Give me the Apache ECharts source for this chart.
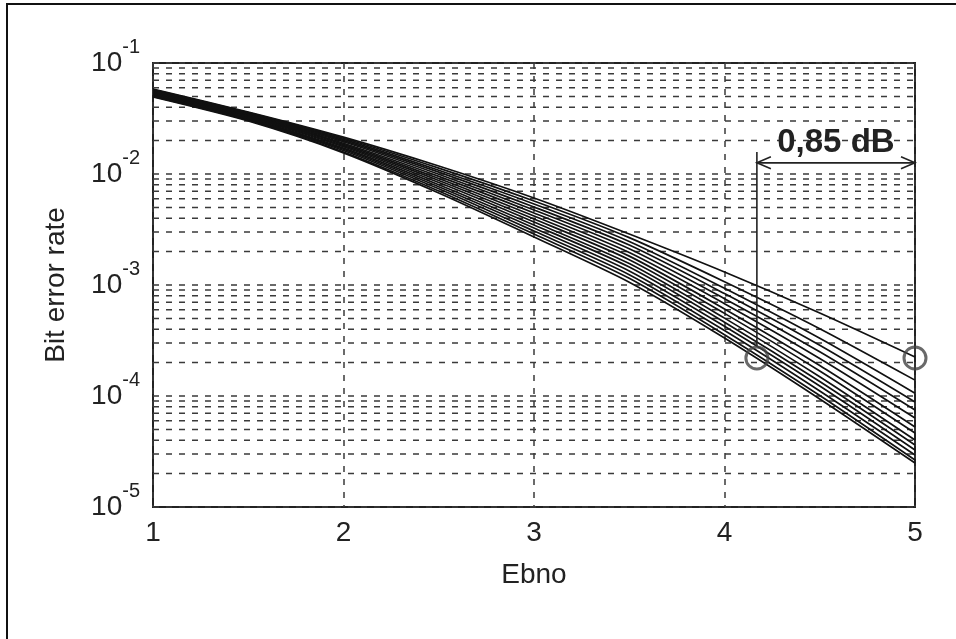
<!DOCTYPE html>
<html>
<head>
<meta charset="utf-8">
<script src="https://cdn.jsdelivr.net/npm/echarts@6/dist/echarts.min.js"></script>
<style>
  html, body { margin: 0; padding: 0; background: #fff; }
  #chart { width: 956px; height: 639px; }
</style>
</head>
<body>
<div id="chart"></div>
<script>
// Eb/No points (dB)
const ebno = [1, 1.5, 2, 2.5, 3, 3.5, 4, 4.5, 5];

// bit error rate, one row per curve (worst on top, best at bottom)
const berCurves = [
  [0.0583, 0.0362, 0.0215, 0.0118, 6.08e-3, 2.88e-3, 1.31e-3, 5.60e-4, 2.25e-4],
  [0.0576, 0.0357, 0.0210, 0.0113, 5.71e-3, 2.67e-3, 1.07e-3, 4.04e-4, 1.39e-4],
  [0.0569, 0.0352, 0.0205, 0.0108, 5.37e-3, 2.47e-3, 9.34e-4, 3.31e-4, 1.06e-4],
  [0.0562, 0.0346, 0.0200, 0.0104, 5.04e-3, 2.29e-3, 8.37e-4, 2.86e-4, 8.83e-5],
  [0.0554, 0.0341, 0.0195, 9.94e-3, 4.74e-3, 2.12e-3, 7.53e-4, 2.50e-4, 7.48e-5],
  [0.0547, 0.0337, 0.0189, 9.51e-3, 4.45e-3, 1.96e-3, 6.79e-4, 2.18e-4, 6.34e-5],
  [0.0540, 0.0332, 0.0185, 9.11e-3, 4.18e-3, 1.82e-3, 6.08e-4, 1.88e-4, 5.26e-5],
  [0.0533, 0.0328, 0.0180, 8.74e-3, 3.93e-3, 1.69e-3, 5.55e-4, 1.68e-4, 4.64e-5],
  [0.0527, 0.0323, 0.0176, 8.37e-3, 3.69e-3, 1.56e-3, 5.03e-4, 1.49e-4, 4.01e-5],
  [0.0520, 0.0318, 0.0171, 8.01e-3, 3.47e-3, 1.45e-3, 4.62e-4, 1.35e-4, 3.62e-5],
  [0.0513, 0.0314, 0.0167, 7.67e-3, 3.26e-3, 1.34e-3, 4.25e-4, 1.23e-4, 3.26e-5],
  [0.0506, 0.0309, 0.0163, 7.36e-3, 3.06e-3, 1.24e-3, 3.89e-4, 1.11e-4, 2.94e-5],
  [0.0500, 0.0305, 0.0158, 7.04e-3, 2.88e-3, 1.15e-3, 3.57e-4, 1.01e-4, 2.65e-5],
  [0.0494, 0.0300, 0.0155, 6.74e-3, 2.71e-3, 1.06e-3, 3.33e-4, 9.40e-5, 2.49e-5]
];

// axis ticks
const xTicks = [1, 2, 3, 4, 5];
const yDecades = [1e-5, 1e-4, 1e-3, 1e-2];
const yMinorSteps = [2, 3, 4, 5, 6, 7, 8, 9];

// 0,85 dB annotation
const gapEbno = [4.17, 5];
const gapBer = 2.2e-4;
const arrowBer = 1.26e-2;
const leaderTopBer = 1.58e-2;
const labelBer = 1.90e-2;
const gapLabel = '0,85 dB';

const FONT = '"Liberation Sans", Arial, sans-serif';
const INK = '#222';

// minor log grid values (2..9 of every decade)
let minorVals = [];
yDecades.forEach(function (d) {
  yMinorSteps.forEach(function (m) { minorVals.push([xTicks[0], d * m]); });
});

const dashStyle = { color: '#3a3a3a', width: 1.5, type: [6, 7] };

let series = [{
  type: 'custom',
  data: minorVals,
  z: 1,
  silent: true,
  renderItem: function (params, api) {
    const v = api.value(1);
    const p0 = api.coord([xTicks[0], v]);
    const p1 = api.coord([xTicks[xTicks.length - 1], v]);
    return {
      type: 'line',
      shape: { x1: p0[0], y1: p0[1], x2: p1[0], y2: p1[1] },
      style: { stroke: dashStyle.color, lineWidth: dashStyle.width, lineDash: dashStyle.type }
    };
  }
}];

berCurves.forEach(function (row) {
  series.push({
    type: 'line',
    data: row.map(function (v, j) { return [ebno[j], v]; }),
    showSymbol: false,
    smooth: 0.25,
    lineStyle: { color: '#111', width: 1.7 },
    z: 3,
    silent: true
  });
});

series.push({
  type: 'custom',
  data: [[gapEbno[0], gapBer]],
  clip: false,
  z: 5,
  silent: true,
  renderItem: function (params, api) {
    const low = api.coord([gapEbno[0], gapBer]);
    const top = api.coord([gapEbno[0], leaderTopBer]);
    const a = api.coord([gapEbno[0], arrowBer]);
    const b = api.coord([gapEbno[1], arrowBer]);
    const t = api.coord([(gapEbno[0] + gapEbno[1]) / 2, labelBer]);
    const st = { stroke: INK, lineWidth: 1.6, fill: null };
    return {
      type: 'group',
      children: [
        { type: 'line', shape: { x1: low[0], y1: low[1] - 11, x2: top[0], y2: top[1] }, style: st },
        { type: 'line', shape: { x1: a[0], y1: a[1], x2: b[0], y2: b[1] }, style: st },
        { type: 'polyline', shape: { points: [[a[0] + 14, a[1] - 6], [a[0], a[1]], [a[0] + 14, a[1] + 6]] }, style: st },
        { type: 'polyline', shape: { points: [[b[0] - 14, b[1] - 6], [b[0], b[1]], [b[0] - 14, b[1] + 6]] }, style: st },
        { type: 'text', x: t[0], y: t[1], style: {
            text: gapLabel, fill: INK, font: 'bold 33px ' + FONT,
            align: 'center', verticalAlign: 'middle', textAlign: 'center', textVerticalAlign: 'middle'
        } }
      ]
    };
  }
});

series.push({
  type: 'scatter',
  data: [[gapEbno[0], gapBer], [gapEbno[1], gapBer]],
  symbol: 'circle',
  symbolSize: 22,
  clip: false,
  z: 6,
  silent: true,
  itemStyle: { color: 'rgba(0,0,0,0)', borderColor: '#444', borderWidth: 3 }
});

const chart = echarts.init(document.getElementById('chart'));
chart.setOption({
  animation: false,
  backgroundColor: '#fff',
  textStyle: { fontFamily: FONT },
  graphic: [{
    type: 'rect',
    shape: { x: 7, y: 4, width: 1200, height: 1200 },
    style: { fill: null, stroke: '#111', lineWidth: 2 },
    silent: true
  }],
  grid: {
    left: 153, right: 41, top: 63, bottom: 132,
    show: true, borderColor: '#222', borderWidth: 2,
    backgroundColor: 'rgba(0,0,0,0)'
  },
  xAxis: {
    type: 'value',
    min: xTicks[0], max: xTicks[xTicks.length - 1], interval: 1,
    name: 'Ebno', nameLocation: 'middle', nameGap: 54,
    nameTextStyle: { fontSize: 28, color: INK, fontFamily: FONT },
    axisLine: { show: false },
    axisTick: { show: false },
    axisLabel: { fontSize: 28, color: INK, margin: 12, fontFamily: FONT },
    splitLine: { show: true, lineStyle: dashStyle }
  },
  yAxis: {
    type: 'log', logBase: 10,
    min: 1e-5, max: 1e-1,
    name: 'Bit error rate', nameLocation: 'middle', nameGap: 83,
    nameTextStyle: { fontSize: 28, color: INK, fontFamily: FONT },
    axisLine: { show: false },
    axisTick: { show: false },
    axisLabel: {
      margin: 13,
      formatter: function (v) {
        return '{b|10}{s|' + Math.round(Math.log10(v)) + '}';
      },
      rich: {
        b: { fontSize: 28, color: INK, fontFamily: FONT, lineHeight: 52 },
        s: { fontSize: 20, color: INK, fontFamily: FONT, verticalAlign: 'top', lineHeight: 20 }
      }
    },
    splitLine: { show: true, lineStyle: dashStyle }
  },
  series: series
});
</script>
</body>
</html>
